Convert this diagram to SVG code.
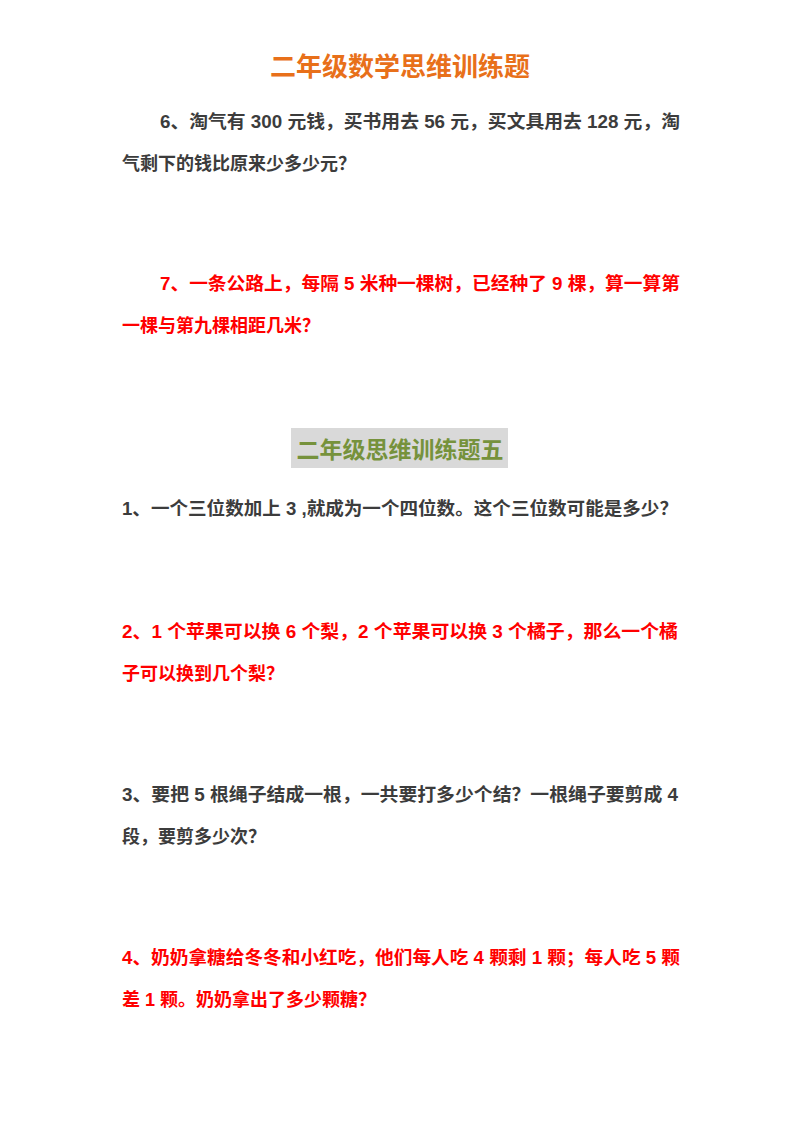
<svg xmlns="http://www.w3.org/2000/svg" width="800" height="1132" viewBox="0 0 800 1132">
<style>
text{font-family:"Liberation Sans","Noto Sans CJK SC",sans-serif;font-weight:bold;font-size:18px}
.g{fill:#3c3c3c}
.r{fill:#ff0000}
</style>
<rect width="800" height="1132" fill="#fff"/>
<text x="400" y="76" text-anchor="middle" style="font-size:26px;fill:#e8701a">二年级数学思维训练题</text>
<text class="g" x="160" y="128" textLength="520" lengthAdjust="spacingAndGlyphs">6、淘气有 300 元钱，买书用去 56 元，买文具用去 128 元，淘</text>
<text class="g" x="122" y="170">气剩下的钱比原来少多少元？</text>
<text class="r" x="160" y="290" textLength="520" lengthAdjust="spacingAndGlyphs">7、一条公路上，每隔 5 米种一棵树，已经种了 9 棵，算一算第</text>
<text class="r" x="122" y="332">一棵与第九棵相距几米？</text>
<rect x="291" y="428" width="217" height="40" fill="#d9d9d9"/>
<text x="400" y="458" text-anchor="middle" style="font-size:23px;fill:#76923c">二年级思维训练题五</text>
<text class="g" x="122" y="515" textLength="556" lengthAdjust="spacingAndGlyphs">1、一个三位数加上 3 ,就成为一个四位数。这个三位数可能是多少？</text>
<text class="r" x="122" y="638" textLength="556" lengthAdjust="spacingAndGlyphs">2、1 个苹果可以换 6 个梨，2 个苹果可以换 3 个橘子，那么一个橘</text>
<text class="r" x="122" y="680">子可以换到几个梨？</text>
<text class="g" x="122" y="801" textLength="556" lengthAdjust="spacingAndGlyphs">3、要把 5 根绳子结成一根，一共要打多少个结？一根绳子要剪成 4</text>
<text class="g" x="122" y="843">段，要剪多少次？</text>
<text class="r" x="122" y="964" textLength="558" lengthAdjust="spacingAndGlyphs">4、奶奶拿糖给冬冬和小红吃，他们每人吃 4 颗剩 1 颗；每人吃 5 颗</text>
<text class="r" x="122" y="1006">差 1 颗。奶奶拿出了多少颗糖？</text>
</svg>
